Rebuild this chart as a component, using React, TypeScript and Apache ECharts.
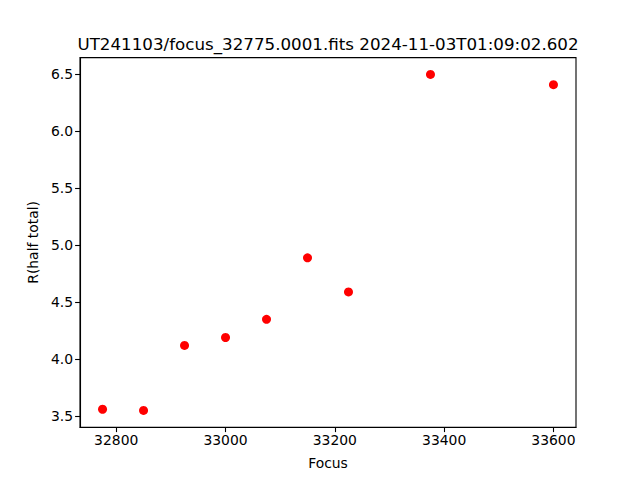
import React, { useEffect, useRef } from "react";
import * as echarts from "echarts";

const focusValues = [32775, 32850, 32925, 33000, 33075, 33150, 33225, 33375, 33600];
const rHalfTotal = [3.56, 3.55, 4.12, 4.19, 4.35, 4.89, 4.59, 6.50, 6.41];
const xTicks = [32800, 33000, 33200, 33400, 33600];
const yTicks = [3.5, 4.0, 4.5, 5.0, 5.5, 6.0, 6.5];
const titleText = "UT241103/focus_32775.0001.fits 2024-11-03T01:09:02.602";
const xName = "Focus";
const yName = "R(half total)";

export default function App() {
  const ref = useRef<HTMLDivElement>(null);
  useEffect(() => {
    if (!ref.current) return;
    const chart = echarts.init(ref.current, null, { renderer: "svg" });
    const xMin = Math.min(...focusValues), xMax = Math.max(...focusValues);
    const yMin = Math.min(...rHalfTotal), yMax = Math.max(...rHalfTotal);
    const xm = (xMax - xMin) * 0.05, ym = (yMax - yMin) * 0.05;
    const font = "DejaVu Sans";
    chart.setOption({
      animation: false,
      textStyle: { fontFamily: font },
      grid: { left: 80, right: 64, top: 57.6, bottom: 52.8, show: true, borderColor: "#000", borderWidth: 1.1, backgroundColor: "transparent" },
      graphic: [
        { type: "text", x: 328, y: 44, style: { text: titleText, font: `16.7px ${font}`, fill: "#000", textAlign: "center", textVerticalAlign: "middle" } },
      ],
      xAxis: {
        type: "value",
        min: xMin - xm,
        max: xMax + xm,
        name: xName,
        nameLocation: "middle",
        nameGap: 29,
        nameTextStyle: { fontSize: 13.9, color: "#000", fontFamily: font },
        splitLine: { show: false },
        axisLine: { show: true, onZero: false, lineStyle: { color: "#000", width: 1.1 } },
        axisTick: { show: true, length: 4.9, lineStyle: { color: "#000", width: 1.1 }, customValues: xTicks },
        axisLabel: { customValues: xTicks, fontSize: 13.9, color: "#000", margin: 6, fontFamily: font, formatter: (v: number) => String(v) },
      },
      yAxis: {
        type: "value",
        min: yMin - ym,
        max: yMax + ym,
        name: yName,
        nameLocation: "middle",
        nameGap: 38,
        nameRotate: 90,
        nameTextStyle: { fontSize: 13.9, color: "#000", fontFamily: font },
        splitLine: { show: false },
        axisLine: { show: true, onZero: false, lineStyle: { color: "#000", width: 1.1 } },
        axisTick: { show: true, length: 4.9, lineStyle: { color: "#000", width: 1.1 }, customValues: yTicks },
        axisLabel: { customValues: yTicks, fontSize: 13.9, color: "#000", margin: 7, fontFamily: font, formatter: (v: number) => v.toFixed(1) },
      },
      series: [
        {
          type: "scatter",
          data: focusValues.map((x, i) => [x, rHalfTotal[i]]),
          symbol: "circle",
          symbolSize: 9,
          itemStyle: { color: "#ff0000", opacity: 1 },
        },
      ],
    });
    return () => chart.dispose();
  }, []);
  return <div ref={ref} style={{ width: 640, height: 480, position: "absolute", left: 0, top: 0 }} />;
}
